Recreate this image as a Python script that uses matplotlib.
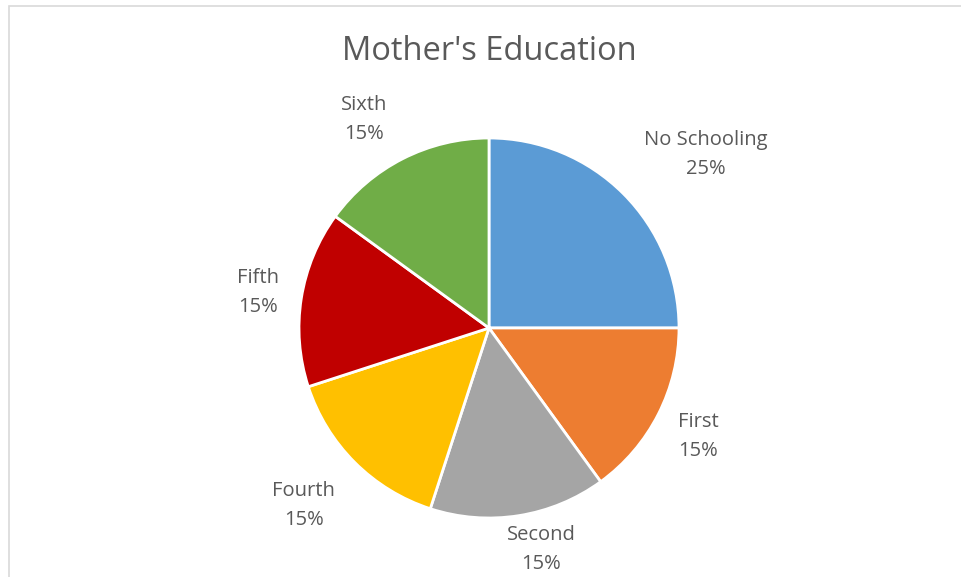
import numpy as np
import matplotlib
matplotlib.use('Agg')
import matplotlib.pyplot as plt
from matplotlib.patches import Rectangle

plt.rcParams['font.family'] = ['Open Sans', 'DejaVu Sans']

# Mother's education level, share of respondents (%)
categories = ['No Schooling', 'First', 'Second', 'Fourth', 'Fifth', 'Sixth']
shares = [25, 15, 15, 15, 15, 15]
colors = ['#5B9BD5', '#ED7D31', '#A5A5A5', '#FFC000', '#C00000', '#70AD47']

TEXT = '#595959'
W, H = 961, 577

# label placement around the pie: (angle in degrees, distance in radii)
label_polar = [(38.7, 1.46), (-27.5, 1.24), (-76.8, 1.20),
               (-136.3, 1.35), (171.3, 1.23), (120.8, 1.28)]

fig = plt.figure(figsize=(W / 100, H / 100), dpi=100)
ax = fig.add_axes([0, 0, 1, 1])

# chart area frame, runs off the right and bottom edges
ax.add_patch(Rectangle((8.5, -50), 1000, H - 6 + 50, fill=False,
                       edgecolor='#D9D9D9', linewidth=1.2))

cx, cy, r = 489, H - 328, 190
wedges, _ = ax.pie(shares, colors=colors, startangle=90, counterclock=False,
                   center=(cx, cy), radius=r, frame=True,
                   wedgeprops=dict(edgecolor='white', linewidth=2))

total = sum(shares)
for name, val, (ang, d) in zip(categories, shares, label_polar):
    a = np.deg2rad(ang)
    x = cx + d * r * np.cos(a)
    y = cy + d * r * np.sin(a)
    ax.text(x, y, '{}\n{:.0f}%'.format(name, 100 * val / total), ha='center', va='center',
            fontsize=14.5, color=TEXT, linespacing=1.6)

ax.text(489, H - 51, "Mother's Education", ha='center', va='center', fontsize=23.5, color=TEXT)

ax.set_xlim(0, W)
ax.set_ylim(0, H)
ax.set_aspect('equal')
ax.axis('off')

fig.savefig('out.png', dpi=100)
